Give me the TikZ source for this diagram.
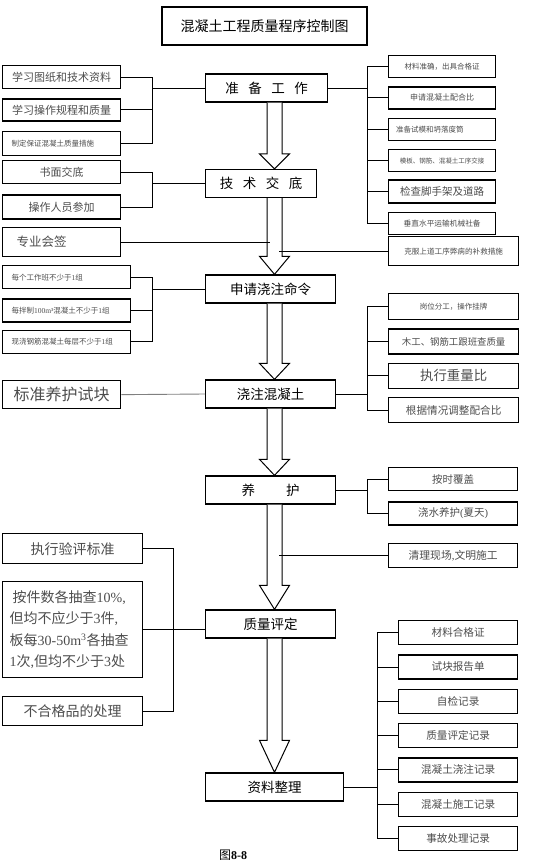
\documentclass[tikz,border=0pt]{standalone}
\usepackage{fontspec}
\setmainfont{Noto Sans CJK SC}
\newfontfamily\latfont{Liberation Serif}
\newcommand{\lat}[1]{{\latfont #1}}
\usetikzlibrary{positioning,calc}
\newcommand{\fsz}[1]{\fontsize{#1}{#1}\selectfont}

\tikzset{
  box/.style={rectangle, draw, line width=1.3pt, inner sep=0pt, text=black!70},
  stage/.style={box, text=black, anchor=west, minimum width=#1, minimum height=28pt, font=\fsz{13.5}},
  stage/.default=130pt,
  item/.style={box, anchor=north west, minimum width=#1},
  link/.style={line width=0.9pt},
  hollow/.style={draw, fill=white, line width=1pt},
}

\begin{document}
\begin{tikzpicture}[x=1pt, y=-1pt]
\useasboundingbox (0,0) rectangle (550,864);
% title
\node[box, text=black, minimum width=205pt, minimum height=38pt, font=\fsz{14}] (title) at (264.5,26) {混凝土工程质量程序控制图};

% main stages
\node[stage=122pt] (prep) at (205,88) {准\hspace{0.7em}备\hspace{0.7em}工\hspace{0.7em}作};
\node[stage=111pt] (tech) at (205,183.5) {技\hspace{0.7em}术\hspace{0.7em}交\hspace{0.7em}底};
\node[stage] (order) at (205,289) {申请浇注命令};
\node[stage] (pour) at (205,394) {浇注混凝土};
\node[stage] (cure) at (205,490) {养\hspace{2.3em}护};
\node[stage] (eval) at (205,624) {质量评定};
\node[stage=138pt] (docs) at (205,787) {资料整理};

% left side
\node[item=118pt, minimum height=23pt, font=\fsz{11}] (l11) at (2,65) {学习图纸和技术资料};
\node[item=118pt, minimum height=22pt, font=\fsz{11}, below=9pt of l11] (l12) {学习操作规程和质量};
\node[item=118pt, minimum height=24pt, font=\fsz{7.5}, text width=100pt, align=left, below=9pt of l12] (l13) {制定保证混凝土质量措施};
\node[item=118pt, minimum height=23pt, font=\fsz{11}] (l21) at (2,160) {书面交底};
\node[item=118pt, minimum height=24pt, font=\fsz{11}, below=10pt of l21] (l22) {操作人员参加};
\node[item=118pt, minimum height=29pt, font=\fsz{12.5}, text width=100pt, align=left] (sign) at (2,227) {\hspace*{5pt}专业会签};
\node[item=128pt, minimum height=23pt, font=\fsz{7.5}, text width=110pt, align=left] (g31) at (2,265) {每个工作班不少于\lat{1}组};
\node[item=128pt, minimum height=23pt, font=\fsz{7.5}, text width=110pt, align=left, below=9pt of g31] (g32) {每拌制\lat{100m³}混凝土不少于\lat{1}组};
\node[item=128pt, minimum height=23pt, font=\fsz{7.5}, text width=110pt, align=left, below=7pt of g32] (g33) {现浇钢筋混凝土每层不少于\lat{1}组};
\node[item=118pt, minimum height=28pt, font=\fsz{16}] (std) at (2,380) {标准养护试块};
\node[item=140pt, minimum height=30pt, font=\fsz{14}] (exec) at (2,533) {执行验评标准};
\node[item=140pt, minimum height=96pt, font=\fontsize{14}{21.5}\selectfont, text width=126pt, align=left] (multi) at (2,581)
  {\hspace*{3pt}按件数各抽查\lat{10\%,}\\但均不应少于\lat{3}件\lat{,}\\板每\lat{30-50m\textsuperscript{3}}各抽查\\\lat{1}次\lat{,}但均不少于\lat{3}处};
\node[item=140pt, minimum height=29pt, font=\fsz{14}] (reject) at (2,696) {不合格品的处理};

% right side
\node[item=107pt, minimum height=22pt, font=\fsz{7.5}] (r11) at (388,55) {材料准确，出具合格证};
\node[item=107pt, minimum height=22pt, font=\fsz{8}, below=8pt of r11] (r12) {申请混凝土配合比};
\node[item=107pt, minimum height=22pt, font=\fsz{7.5}, text width=92pt, align=left, below=8pt of r12] (r13) {准备试模和坍落度筒};
\node[item=107pt, minimum height=22pt, font=\fsz{6.5}, below=8pt of r13] (r14) {模板、钢筋、混凝土工序交接};
\node[item=107pt, minimum height=23pt, font=\fsz{10.5}, below=7pt of r14] (r15) {检查脚手架及道路};
\node[item=107pt, minimum height=22pt, font=\fsz{7.7}, below=8pt of r15] (r16) {垂直水平运输机械社备};
\node[item=130pt, minimum height=29pt, font=\fsz{7.6}] (fix) at (388,236) {克服上道工序弊病的补救措施};
\node[item=130pt, minimum height=26pt, font=\fsz{7.5}] (r31) at (388,293) {岗位分工，操作挂牌};
\node[item=130pt, minimum height=25pt, font=\fsz{9.4}, below=8pt of r31] (r32) {木工、钢筋工跟班查质量};
\node[item=130pt, minimum height=25pt, font=\fsz{13.4}, below=8pt of r32] (r33) {执行重量比};
\node[item=130pt, minimum height=25pt, font=\fsz{10.6}, below=8pt of r33] (r34) {根据情况调整配合比};
\node[item=129pt, minimum height=23pt, font=\fsz{10.5}] (r41) at (388,467) {按时覆盖};
\node[item=129pt, minimum height=23pt, font=\fsz{10.5}, below=10pt of r41] (r42) {浇水养护\lat{(}夏天\lat{)}};
\node[item=129pt, minimum height=24pt, font=\fsz{10.8}] (clean) at (388,543) {清理现场\lat{,}文明施工};
\node[item=119pt, minimum height=24pt, font=\fsz{10.6}] (d1) at (398,620) {材料合格证};
\node[item=119pt, minimum height=24pt, font=\fsz{10.6}, below=9pt of d1] (d2) {试块报告单};
\node[item=119pt, minimum height=24pt, font=\fsz{10.6}, below=9pt of d2] (d3) {自检记录};
\node[item=119pt, minimum height=24pt, font=\fsz{10.6}, below=9pt of d3] (d4) {质量评定记录};
\node[item=119pt, minimum height=24pt, font=\fsz{10.6}, below=9pt of d4] (d5) {混凝土浇注记录};
\node[item=119pt, minimum height=24pt, font=\fsz{10.6}, below=9pt of d5] (d6) {混凝土施工记录};
\node[item=119pt, minimum height=24pt, font=\fsz{10.6}, below=9pt of d6] (d7) {事故处理记录};

\node[font=\fsz{12}] (caption) at (233,855) {图\lat{\bfseries 8-8}};

% bus lines and ends
\coordinate (lb1) at (152,0);
\coordinate (lb5) at (173,0);
\coordinate (rb1) at (367,0);
\coordinate (rb6) at (377,0);
\coordinate (axis) at (274.5,0);
\coordinate (signend) at (270,0);
\coordinate (fixend) at (279,0);

% hollow flow arrows
\foreach \a/\b/\h in {prep/tech/15, tech/order/18, order/pour/16, pour/cure/16, cure/eval/24, eval/docs/32}
  \draw[hollow] ($(\a.south -| axis)+(-7.5,0)$) -- ($(\b.north -| axis)+(-7.5,-\h)$) -- ++(-7.5,0)
    -- (\b.north -| axis) -- ($(\b.north -| axis)+(15,-\h)$) -- ++(-7.5,0) -- ($(\a.south -| axis)+(7.5,0)$);

% left connectors
\draw[link] (l11.east) -| (l13.east -| lb1) -- (l13.east);
\draw[link] (l12.east) -- (l12.east -| lb1);
\draw[link] (prep.west -| lb1) -- (prep.west);
\draw[link] (l21.east) -| (l22.east -| lb1) -- (l22.east);
\draw[link] (tech.west -| lb1) -- (tech.west);
\draw[link] (sign.east) -- (sign.east -| signend);
\draw[link] (g31.east) -| (g33.east -| lb1) -- (g33.east);
\draw[link] (g32.east) -- (g32.east -| lb1);
\draw[link] (order.west -| lb1) -- (order.west);
\draw[link, gray] (std.east) -- (pour.west);
\draw[link] (exec.east) -| (reject.east -| lb5) -- (reject.east);
\draw[link] (multi.east) -- (multi.east -| eval.west);

% right connectors
\draw[link] (r11.west) -| (r16.west -| rb1) -- (r16.west);
\foreach \n in {r12,r13,r14,r15}
  \draw[link] (\n.west) -- (\n.west -| rb1);
\draw[link] (prep.east) -- (prep.east -| rb1);
\draw[link] (fix.west) -- (fix.west -| fixend);
\draw[link] (r31.west) -| (r34.west -| rb1) -- (r34.west);
\foreach \n in {r32,r33}
  \draw[link] (\n.west) -- (\n.west -| rb1);
\draw[link] (pour.east) -- (pour.east -| rb1);
\draw[link] (r41.west) -| (r42.west -| rb1) -- (r42.west);
\draw[link] (cure.east) -- (cure.east -| rb1);
\draw[link] (clean.west) -- (clean.west -| fixend);
\draw[link] (d1.west) -| (d7.west -| rb6) -- (d7.west);
\foreach \n in {d2,d3,d4,d5,d6}
  \draw[link] (\n.west) -- (\n.west -| rb6);
\draw[link] (docs.east) -- (docs.east -| rb6);
\end{tikzpicture}
\end{document}
